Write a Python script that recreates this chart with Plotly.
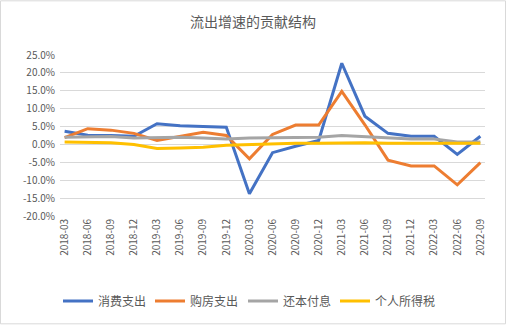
import plotly.graph_objects as go

quarters = ["2018-03","2018-06","2018-09","2018-12","2019-03","2019-06","2019-09","2019-12",
            "2020-03","2020-06","2020-09","2020-12","2021-03","2021-06","2021-09","2021-12",
            "2022-03","2022-06","2022-09"]
consumption = [3.7, 2.6, 2.5, 2.3, 5.8, 5.2, 5.0, 4.8, -13.8, -2.3, -0.5, 1.1, 22.7, 7.9, 3.1, 2.3, 2.3, -2.8, 2.3]
housing = [1.9, 4.4, 4.0, 3.1, 1.1, 2.3, 3.4, 2.5, -4.0, 2.8, 5.4, 5.4, 14.8, 5.5, -4.4, -6.0, -6.0, -11.3, -5.1]
debt_service = [2.0, 2.2, 2.2, 1.8, 1.9, 2.0, 1.8, 1.5, 1.8, 1.9, 1.9, 2.0, 2.5, 2.2, 1.7, 1.5, 1.5, 0.7, 0.7]
income_tax = [0.7, 0.6, 0.5, 0.0, -1.1, -1.0, -0.8, -0.2, 0.0, 0.1, 0.3, 0.3, 0.5, 0.5, 0.3, 0.3, 0.3, 0.3, 0.3]

names = ["消费支出", "购房支出", "还本付息", "个人所得税"]
colors = ["#4472C4", "#ED7D31", "#A5A5A5", "#FFC000"]
series = [consumption, housing, debt_service, income_tax]

yticks = [-20, -15, -10, -5, 0, 5, 10, 15, 20, 25]
yticklabels = [f"{v:.1f}%" for v in yticks]

FONT = "Noto Sans CJK SC"
W, H = 506, 326
L, R, T, B = 60, 21, 55, 109
pw, ph = W - L - R, H - T - B

legend_ids = ["legend", "legend2", "legend3", "legend4"]
legend_left_px = [58, 150, 243, 335]

fig = go.Figure()
for n, c, s, lid in zip(names, colors, series, legend_ids):
    fig.add_trace(go.Scatter(x=list(range(len(quarters))), y=s, name=n, mode="lines",
                             line=dict(color=c, width=3), legend=lid))

fig.add_shape(type="rect", xref="paper", yref="paper",
              x0=(0.5 - L) / pw, x1=(W - 0.5 - L) / pw,
              y0=(T + ph - (H - 0.5)) / ph, y1=(T + ph - 0.5) / ph,
              line=dict(color="#d9d9d9", width=1), layer="below")

legends = {}
for lid, lx in zip(legend_ids, legend_left_px):
    legends[lid] = dict(orientation="h", x=(lx - L) / pw, xanchor="left",
                        y=(T + ph - 301) / ph, yanchor="middle",
                        font=dict(size=12, color="#595959"), bgcolor="rgba(0,0,0,0)")

fig.update_layout(
    width=W, height=H,
    margin=dict(l=L, r=R, t=T, b=B),
    paper_bgcolor="white", plot_bgcolor="white",
    font=dict(family=FONT, color="#595959", size=10),
    title=dict(text="流出增速的贡献结构", x=0.5, xanchor="center", y=1 - 22 / H, yanchor="middle",
               font=dict(family=FONT, size=14, color="#595959")),
    xaxis=dict(tickmode="array", tickvals=list(range(len(quarters))), ticktext=quarters,
               tickangle=-90, range=[-0.2, 18.2], showgrid=False, zeroline=False,
               showline=False, ticks="", tickfont=dict(size=10, color="#595959")),
    yaxis=dict(tickmode="array", tickvals=yticks, ticktext=yticklabels, range=[-20, 25],
               showgrid=True, gridcolor="#d9d9d9", gridwidth=1, zeroline=False,
               showline=False, ticks="", tickfont=dict(size=10, color="#595959"),
               ticklabelstandoff=4),
    showlegend=True,
    **legends,
)

fig.write_html("out.html")
